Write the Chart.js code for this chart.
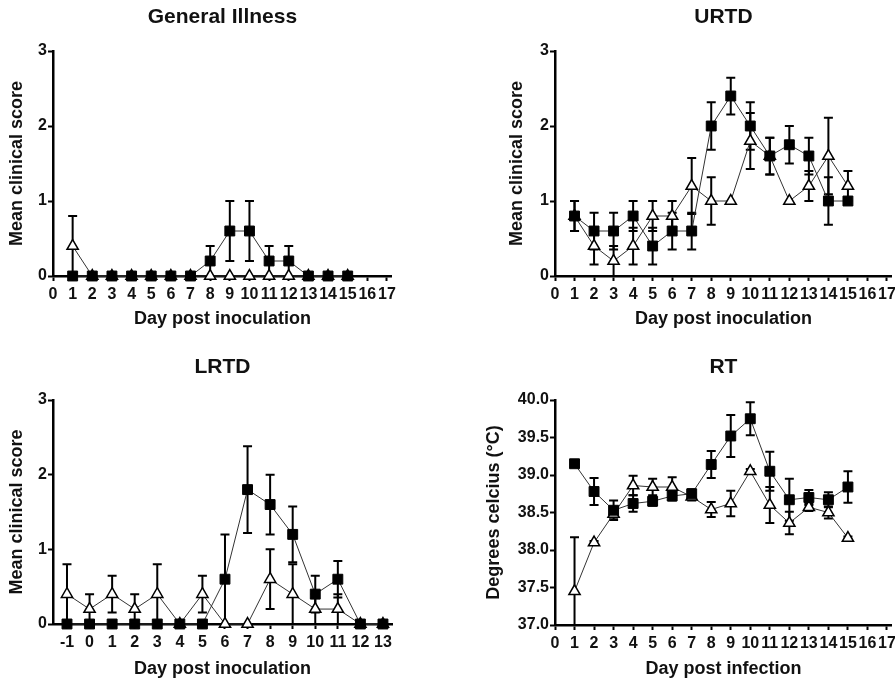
<!DOCTYPE html>
<html>
<head>
<meta charset="utf-8">
<script src="https://cdn.jsdelivr.net/npm/chart.js@4.4.1/dist/chart.umd.min.js"></script>
<style>
  body { margin: 0; background: #fff; overflow: hidden; width: 895px; height: 681px; position: relative; }
  canvas { position: absolute; }
</style>
</head>
<body>
<canvas id="giChart" width="400" height="330" style="left:0;top:0"></canvas>
<canvas id="urtdChart" width="455" height="330" style="left:445px;top:0"></canvas>
<canvas id="lrtdChart" width="400" height="351" style="left:0;top:330px"></canvas>
<canvas id="rtChart" width="455" height="351" style="left:445px;top:330px"></canvas>
<script>
// Tick labels
const dayTicks = [0, 1, 2, 3, 4, 5, 6, 7, 8, 9, 10, 11, 12, 13, 14, 15, 16, 17];
const lrtdTicks = [-1, 0, 1, 2, 3, 4, 5, 6, 7, 8, 9, 10, 11, 12, 13];
const scoreTicks = [0, 1, 2, 3];
const tempTicks = [37.0, 37.5, 38.0, 38.5, 39.0, 39.5, 40.0];

// General Illness
const giDays = [1, 2, 3, 4, 5, 6, 7, 8, 9, 10, 11, 12, 13, 14, 15];
const giSquare = [0, 0, 0, 0, 0, 0, 0, 0.2, 0.6, 0.6, 0.2, 0.2, 0, 0, 0];
const giSquareErr = [0, 0, 0, 0, 0, 0, 0, 0.2, 0.4, 0.4, 0.2, 0.2, 0, 0, 0];
const giTriangle = [0.4, 0, 0, 0, 0, 0, 0, 0, 0, 0, 0, 0, 0, 0, 0];
const giTriangleErr = [0.4, 0, 0, 0, 0, 0, 0, 0, 0, 0, 0, 0, 0, 0, 0];

// URTD
const urtdDays = [1, 2, 3, 4, 5, 6, 7, 8, 9, 10, 11, 12, 13, 14, 15];
const urtdSquare = [0.8, 0.6, 0.6, 0.8, 0.4, 0.6, 0.6, 2.0, 2.4, 2.0, 1.6, 1.75, 1.6, 1.0, 1.0];
const urtdSquareErr = [0.2, 0.245, 0.245, 0.2, 0.245, 0.245, 0.245, 0.316, 0.245, 0.316, 0.245, 0.25, 0.245, 0.316, 0];
const urtdTriangle = [0.8, 0.4, 0.2, 0.4, 0.8, 0.8, 1.2, 1.0, 1.0, 1.8, 1.6, 1.0, 1.2, 1.6, 1.2];
const urtdTriangleErr = [0.2, 0.245, 0.2, 0.245, 0.2, 0.2, 0.374, 0.316, 0, 0.374, 0.245, 0, 0.2, 0.51, 0.2];

// LRTD
const lrtdDays = [-1, 0, 1, 2, 3, 4, 5, 6, 7, 8, 9, 10, 11, 12, 13];
const lrtdSquare = [0, 0, 0, 0, 0, 0, 0, 0.6, 1.8, 1.6, 1.2, 0.4, 0.6, 0, 0];
const lrtdSquareErr = [0, 0, 0, 0, 0, 0, 0, 0.6, 0.58, 0.4, 0.374, 0.245, 0.245, 0, 0];
const lrtdTriangle = [0.4, 0.2, 0.4, 0.2, 0.4, 0, 0.4, 0, 0, 0.6, 0.4, 0.2, 0.2, 0, 0];
const lrtdTriangleErr = [0.4, 0.2, 0.245, 0.2, 0.4, 0, 0.245, 0, 0, 0.4, 0.4, 0.2, 0.2, 0, 0];

// RT
const rtDays = [1, 2, 3, 4, 5, 6, 7, 8, 9, 10, 11, 12, 13, 14, 15];
const rtSquare = [39.15, 38.78, 38.53, 38.62, 38.65, 38.72, 38.75, 39.14, 39.52, 39.75, 39.05, 38.67, 38.70, 38.67, 38.84];
const rtSquareErr = [0.04, 0.18, 0.13, 0.11, 0.06, 0.06, 0.06, 0.18, 0.28, 0.22, 0.26, 0.28, 0.1, 0.1, 0.21];
const rtTriangle = [37.45, 38.1, 38.48, 38.86, 38.84, 38.84, 38.71, 38.54, 38.62, 39.05, 38.6, 38.36, 38.57, 38.5, 38.16];
const rtTriangleErr = [0.72, 0.02, 0.05, 0.13, 0.11, 0.13, 0.05, 0.1, 0.17, 0.03, 0.24, 0.15, 0.05, 0.08, 0.02];

const FONT = "'Liberation Sans', Arial, sans-serif";
const INK = '#111';

// error bars drawn under the markers, clipped to the axis range
const errorBars = {
    id: 'errorBars',
    beforeDatasetsDraw(chart) {
        const ctx = chart.ctx;
        const xs = chart.scales.x, ys = chart.scales.y;
        ctx.save();
        ctx.strokeStyle = '#000';
        ctx.lineWidth = 2;
        chart.data.datasets.forEach(ds => {
            ds.data.forEach((pt, i) => {
                const e = ds.errors[i];
                if (!e) return;
                const px = xs.getPixelForValue(pt.x);
                const hiV = pt.y + e, loV = pt.y - e;
                const top = ys.getPixelForValue(Math.min(hiV, ys.max));
                const bot = ys.getPixelForValue(Math.max(loV, ys.min));
                ctx.beginPath();
                ctx.moveTo(px, top);
                ctx.lineTo(px, bot);
                if (hiV <= ys.max) { ctx.moveTo(px - 4.5, top); ctx.lineTo(px + 4.5, top); }
                if (loV >= ys.min) { ctx.moveTo(px - 4.5, bot); ctx.lineTo(px + 4.5, bot); }
                ctx.stroke();
            });
        });
        ctx.restore();
    }
};

function series(days, vals, errs, filled) {
    return {
        data: days.map((d, i) => ({ x: d, y: vals[i] })),
        errors: errs,
        borderColor: '#333',
        borderWidth: 1,
        pointStyle: filled ? 'rect' : 'triangle',
        pointRadius: filled ? 7 : 6.5,
        pointBackgroundColor: filled ? '#000' : '#fff',
        pointBorderColor: '#000',
        pointBorderWidth: filled ? 1 : 1.5,
        clip: false
    };
}

function makeChart(id, o) {
    new Chart(document.getElementById(id), {
        type: 'line',
        data: {
            datasets: [
                series(o.days, o.square, o.squareErr, true),
                series(o.days, o.triangle, o.triangleErr, false)
            ]
        },
        options: {
            responsive: false,
            animation: false,
            layout: { padding: { right: 8 } },
            plugins: {
                legend: { display: false },
                tooltip: { enabled: false },
                title: {
                    display: true,
                    text: o.title,
                    fullSize: false,
                    color: INK,
                    font: { family: FONT, size: 21, weight: 'bold' },
                    padding: { top: o.titleTop, bottom: o.titleBottom }
                }
            },
            scales: {
                x: {
                    type: 'linear',
                    min: o.xMin,
                    max: o.xMax,
                    afterFit: s => { s.height = o.xHeight; },
                    afterBuildTicks: s => { s.ticks = o.xTicks.map(v => ({ value: v })); },
                    border: { color: '#000', width: 2.5 },
                    grid: { drawOnChartArea: false, tickLength: 5, tickWidth: 2, tickColor: '#000' },
                    ticks: {
                        autoSkip: false, maxRotation: 0, padding: 4, color: INK,
                        font: { family: FONT, size: 16, weight: 'bold' }
                    },
                    title: {
                        display: true, text: o.xTitle, color: INK,
                        font: { family: FONT, size: 18, weight: 'bold' },
                        padding: { top: 0, bottom: o.xTitlePad }
                    }
                },
                y: {
                    min: o.yTicks[0],
                    max: o.yTicks[o.yTicks.length - 1],
                    afterFit: s => { s.width = o.yWidth; },
                    afterBuildTicks: s => { s.ticks = o.yTicks.map(v => ({ value: v })); },
                    border: { color: '#000', width: 2.5 },
                    grid: { drawOnChartArea: false, tickLength: 5, tickWidth: 2, tickColor: '#000' },
                    ticks: {
                        padding: 1, color: INK,
                        font: { family: FONT, size: 16, weight: 'bold' },
                        callback: v => o.yDecimals ? v.toFixed(1) : String(v)
                    },
                    title: {
                        display: true, text: o.yTitle, color: INK,
                        font: { family: FONT, size: 18, weight: 'bold' },
                        padding: { top: o.yTitlePad, bottom: 0 }
                    }
                }
            }
        },
        plugins: [errorBars]
    });
}

makeChart('giChart', {
    title: 'General Illness', titleTop: 4.9, titleBottom: 20.9,
    days: giDays, square: giSquare, squareErr: giSquareErr, triangle: giTriangle, triangleErr: giTriangleErr,
    xMin: 0, xMax: 17.25, xTicks: dayTicks, xHeight: 54, xTitle: 'Day post inoculation', xTitlePad: 0,
    yTicks: scoreTicks, yWidth: 53, yTitle: 'Mean clinical score', yTitlePad: 6.2
});

makeChart('urtdChart', {
    title: 'URTD', titleTop: 4.9, titleBottom: 20.9,
    days: urtdDays, square: urtdSquare, squareErr: urtdSquareErr, triangle: urtdTriangle, triangleErr: urtdTriangleErr,
    xMin: 0, xMax: 17.25, xTicks: dayTicks, xHeight: 54, xTitle: 'Day post inoculation', xTitlePad: 0,
    yTicks: scoreTicks, yWidth: 110, yTitle: 'Mean clinical score', yTitlePad: 61.2
});

makeChart('lrtdChart', {
    title: 'LRTD', titleTop: 24.4, titleBottom: 20.4,
    days: lrtdDays, square: lrtdSquare, squareErr: lrtdSquareErr, triangle: lrtdTriangle, triangleErr: lrtdTriangleErr,
    xMin: -1.62, xMax: 13.4, xTicks: lrtdTicks, xHeight: 57, xTitle: 'Day post inoculation', xTitlePad: 1.2,
    yTicks: scoreTicks, yWidth: 53, yTitle: 'Mean clinical score', yTitlePad: 6.2
});

makeChart('rtChart', {
    title: 'RT', titleTop: 24.4, titleBottom: 20.4,
    days: rtDays, square: rtSquare, squareErr: rtSquareErr, triangle: rtTriangle, triangleErr: rtTriangleErr,
    xMin: 0, xMax: 17.25, xTicks: dayTicks, xHeight: 56, xTitle: 'Day post infection', xTitlePad: 1.2,
    yTicks: tempTicks, yDecimals: true, yWidth: 110, yTitle: 'Degrees celcius (\u00B0C)', yTitlePad: 38.2
});
</script>
</body>
</html>
